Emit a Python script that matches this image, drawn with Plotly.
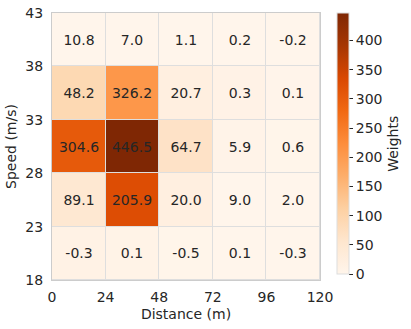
import plotly.graph_objects as go

x_edges = [0, 24, 48, 72, 96, 120]
y_edges = [18, 23, 28, 33, 38, 43]
# cell labels, rows from bottom (18-23) to top (38-43)
weights = [
    [-0.3, 0.1, -0.5, 0.1, -0.3],
    [89.1, 205.9, 20.0, 9.0, 2.0],
    [304.6, 446.5, 64.7, 5.9, 0.6],
    [48.2, 326.2, 20.7, 0.3, 0.1],
    [10.8, 7.0, 1.1, 0.2, -0.2],
]
cb_ticks = [0, 50, 100, 150, 200, 250, 300, 350, 400]

# in the reference, cell colours are vertically flipped relative to labels
color_z = weights[::-1]

oranges = ["#fff5eb", "#fee6ce", "#fdd0a2", "#fdae6b", "#fd8d3c",
           "#f16913", "#d94801", "#a63603", "#7f2704"]
colorscale = [[i / (len(oranges) - 1), c] for i, c in enumerate(oranges)]

font = dict(family="DejaVu Sans", size=14, color="#262626")

fig = go.Figure(go.Heatmap(
    x=x_edges, y=y_edges, z=color_z, text=weights,
    colorscale=colorscale, zmin=-0.5, zmax=446.5,
    xgap=1, ygap=1,
    texttemplate="%{text:.1f}",
    textfont=dict(family="DejaVu Sans", size=14, color="#262626"),
    hoverinfo="skip",
    colorbar=dict(
        title=dict(text="Weights", side="right", font=font),
        tickvals=cb_ticks, ticks="outside", ticklen=4, tickcolor="#262626",
        tickfont=font, thickness=12, len=261, lenmode="pixels",
        x=1.063, xanchor="left", xpad=0, ypad=0, y=0.51, yanchor="middle",
        outlinewidth=1, outlinecolor="#dddddd",
    ),
))

fig.update_layout(
    width=411, height=329,
    margin=dict(l=52, r=91, t=13, b=49, autoexpand=False),
    paper_bgcolor="white", plot_bgcolor="#dedede",
    font=font,
)
fig.update_xaxes(
    range=[0, 120], tickvals=x_edges, showgrid=False, zeroline=False,
    showline=True, linecolor="#cccccc", mirror=True, ticklabelstandoff=4,
    title=dict(text="Distance (m)", font=font, standoff=5), ticks="",
)
fig.update_yaxes(
    range=[18, 43], tickvals=y_edges, showgrid=False, zeroline=False,
    showline=True, linecolor="#cccccc", mirror=True, ticklabelstandoff=5,
    title=dict(text="Speed (m/s)", font=font, standoff=5), ticks="",
)

fig.write_html("out.html", config={"displayModeBar": False},
               post_script="document.body.style.margin='0';")
